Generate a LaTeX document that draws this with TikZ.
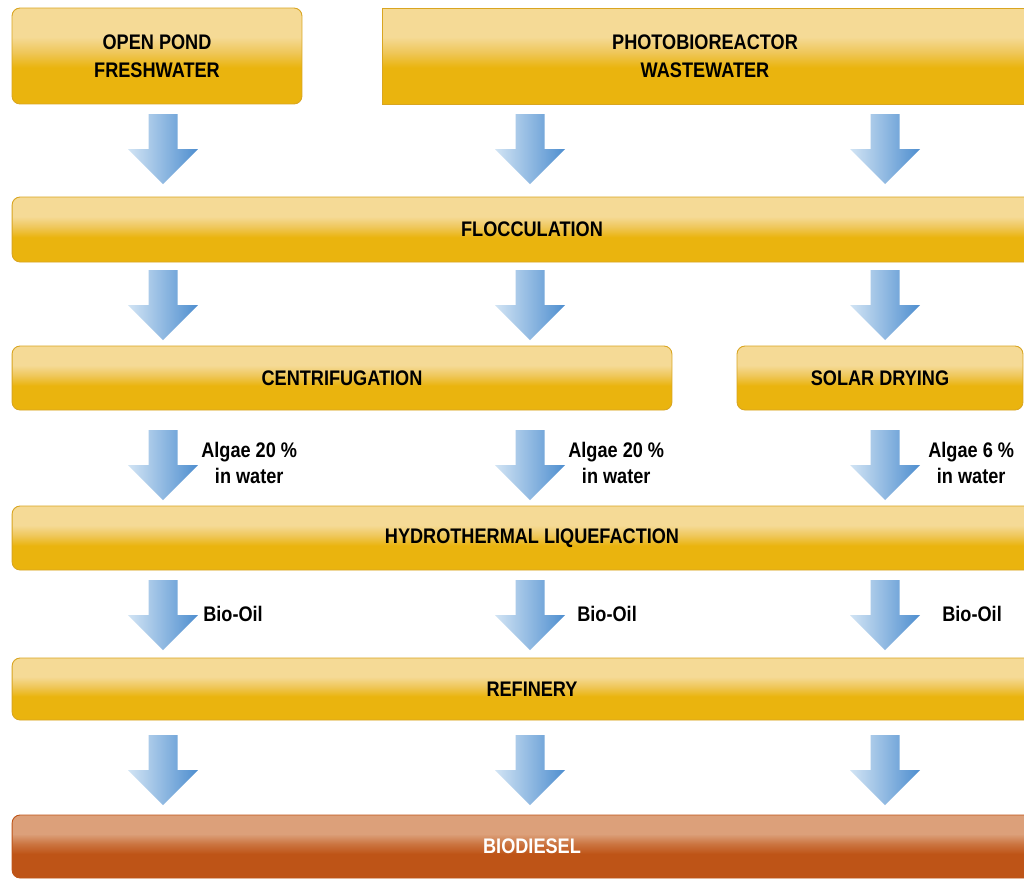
\documentclass[tikz,border=0pt]{standalone}
\usepackage{fontspec}
\setmainfont[FakeStretch=0.86]{Liberation Sans}
\definecolor{goldhi}{HTML}{F5DA96}
\definecolor{goldmid}{HTML}{EFC75A}
\definecolor{goldlo}{HTML}{EAB40E}
\definecolor{goldline}{HTML}{D9A520}
\definecolor{rusthi}{HTML}{DCA07A}
\definecolor{rustmid}{HTML}{CB7440}
\definecolor{rustlo}{HTML}{BE5417}
\definecolor{arrowlight}{HTML}{D2E4F4}
\definecolor{arrowdark}{HTML}{4E8ECF}
\pgfdeclareverticalshading{goldbar}{100bp}{color(0bp)=(goldlo); color(44bp)=(goldlo); color(52bp)=(goldmid); color(60bp)=(goldhi); color(100bp)=(goldhi)}
\pgfdeclareverticalshading{rustbar}{100bp}{color(0bp)=(rustlo); color(44bp)=(rustlo); color(52bp)=(rustmid); color(60bp)=(rusthi); color(100bp)=(rusthi)}
\newcommand{\flowarrow}[2]{%
  \path[left color=arrowlight, right color=arrowdark]
    (#1-14.5,#2) -- (#1+14.5,#2) -- (#1+14.5,#2+35) -- (#1+35,#2+35)
    -- (#1,#2+70) -- (#1-35,#2+35) -- (#1-14.5,#2+35) -- cycle;}
\begin{document}
\begin{tikzpicture}[x=0.02cm, y=-0.02cm,
    stage/.style={draw=goldline, line width=0.5pt, shading=goldbar, rounded corners=0.16cm,
      align=center, font=\fontsize{12}{16}\selectfont\bfseries, text=black, inner sep=0pt},
    product/.style={stage, draw=rustlo, shading=rustbar, text=white},
    note/.style={anchor=west, align=center, font=\fontsize{12}{15}\selectfont\bfseries, inner sep=0pt}]
\clip (0,0) rectangle (1024,880);
\fill[white] (0,0) rectangle (1024,880);
% sources
\node[stage, minimum width=5.8cm, minimum height=1.92cm] (pond) at (157,56) {OPEN POND\\FRESHWATER};
\node[stage, rounded corners=0pt, minimum width=12.92cm, minimum height=1.92cm] (pbr) at (705,56) {PHOTOBIOREACTOR\\WASTEWATER};
% process stages
\node[stage, minimum width=20.8cm, minimum height=1.3cm] (floc) at (532,229.5) {FLOCCULATION};
\node[stage, minimum width=13.2cm, minimum height=1.28cm] (centri) at (342,378) {CENTRIFUGATION};
\node[stage, minimum width=5.72cm, minimum height=1.28cm] (solar) at (880,378) {SOLAR DRYING};
\node[stage, minimum width=20.8cm, minimum height=1.28cm] (htl) at (532,538) {HYDROTHERMAL LIQUEFACTION};
\node[stage, minimum width=20.8cm, minimum height=1.24cm] (refinery) at (532,689) {REFINERY};
\node[product, minimum width=20.8cm, minimum height=1.26cm] (biodiesel) at (532,846.5) {BIODIESEL};
% block arrows
\foreach \y in {114,270,430,580,735}
  \foreach \x in {163,530,885}
    \flowarrow{\x}{\y};
% labels
\node[note] (algaeA) at (201,463) {Algae 20 \%\\in water};
\node[note] (algaeB) at (568,463) {Algae 20 \%\\in water};
\node[note] (algaeC) at (928,463) {Algae 6 \%\\in water};
\node[note] (oilA) at (203,614) {Bio-Oil};
\node[note] (oilB) at (577,614) {Bio-Oil};
\node[note] (oilC) at (942,614) {Bio-Oil};
\end{tikzpicture}
\end{document}
